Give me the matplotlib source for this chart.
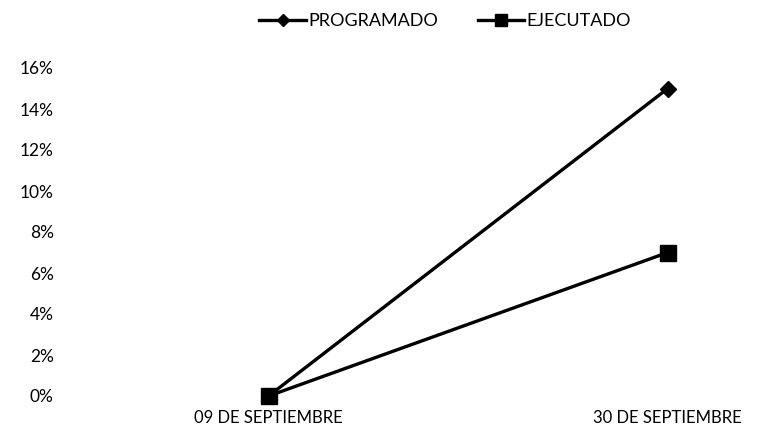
import matplotlib.pyplot as plt

fechas = ['09 DE SEPTIEMBRE', '30 DE SEPTIEMBRE']
programado = [0, 15]
ejecutado = [0, 7]
yticks = [0, 2, 4, 6, 8, 10, 12, 14, 16]

plt.rcParams['font.family'] = ['Lato', 'DejaVu Sans']

fig = plt.figure(figsize=(7.68, 4.28), dpi=100)
ax = fig.add_axes([69/768, 32/428, (742-69)/768, (396-68)/428])

x = range(len(fechas))
ax.plot(x, programado, color='black', lw=2.4, marker='D', markersize=8,
        label='PROGRAMADO', clip_on=False, zorder=3)
ax.plot(x, ejecutado, color='black', lw=2.4, marker='s', markersize=12,
        label='EJECUTADO', clip_on=False, zorder=4)

ax.set_xlim(-0.5, 1.186)
ax.set_ylim(0, 16)
ax.set_xticks(list(x))
ax.set_xticklabels(fechas, fontsize=12)
ax.set_yticks(yticks)
ax.set_yticklabels([f'{v}%' for v in yticks], fontsize=12.5)
ax.tick_params(axis='x', length=0, pad=10)
ax.tick_params(axis='y', length=0, pad=11)
for s in ax.spines.values():
    s.set_visible(False)

leg = ax.legend(loc='upper center', bbox_to_anchor=(445/768, 1.008), bbox_transform=fig.transFigure,
                ncol=2, frameon=False, fontsize=13, handlelength=2.6, columnspacing=2.2,
                handletextpad=0.1, markerscale=0.75)

fig.savefig('out.png', dpi=100)
